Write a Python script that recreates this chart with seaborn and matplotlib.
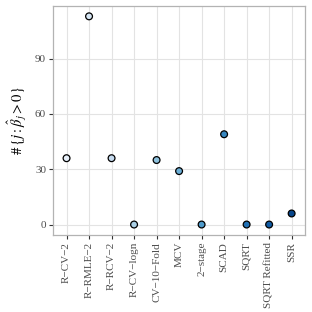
import pandas as pd
import seaborn as sns
import matplotlib.pyplot as plt

# number of selected coefficients per method
methods = ["R-CV-2", "R-RMLE-2", "R-RCV-2", "R-CV-logn", "CV-10-Fold", "MCV",
           "2-stage", "SCAD", "SQRT", "SQRT Refitted", "SSR"]
labels = ["R\u2212CV\u22122", "R\u2212RMLE\u22122", "R\u2212RCV\u22122", "R\u2212CV\u2212logn",
          "CV\u221210\u2212Fold", "MCV", "2\u2212stage", "SCAD", "SQRT", "SQRT Refitted", "SSR"]
n_selected = [36, 113, 36, 0, 35, 29, 0, 49, 0, 0, 6]

df = pd.DataFrame({"method": methods, "n": n_selected})

sns.set_theme(style="whitegrid")
plt.rcParams["font.family"] = ["Liberation Serif", "DejaVu Serif"]
plt.rcParams["mathtext.fontset"] = "stix"

fig = plt.figure(figsize=(3.12, 3.12), dpi=100)
ax = fig.add_axes([0.17, 0.247, 0.808, 0.734])

pal = sns.color_palette("Blues", len(methods))
sns.scatterplot(data=df, x="method", y="n", hue="method", palette=pal,
                s=24, edgecolor="black", linewidth=0.9, legend=False, ax=ax, zorder=3)

ax.set_xlim(-0.6, len(methods) - 0.4)
ax.set_ylim(-5.65, 118.65)
ax.set_yticks([0, 30, 60, 90])
ax.set_xticks(range(len(methods)))
ax.set_xticklabels(labels, rotation=90)
ax.set_xlabel("")
ax.set_ylabel(r"$\#\,\{j : \hat{\beta}_j > 0\}$", fontsize=10.5, color="black")

ax.grid(True, color="#e3e3e3", linewidth=0.8)
for s in ax.spines.values():
    s.set_color("#b3b3b3")
    s.set_linewidth(0.9)
ax.tick_params(axis="both", which="major", length=3, width=0.8, color="#333333",
               labelsize=8, labelcolor="#4d4d4d", pad=2, left=True, bottom=True)

fig.savefig("out.png", dpi=100)
